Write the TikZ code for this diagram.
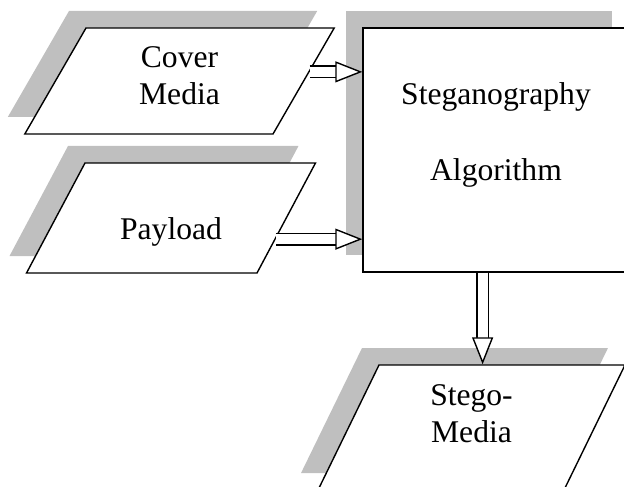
\documentclass[tikz,border=0pt]{standalone}
\usepackage{fontspec}
\setmainfont{Liberation Serif}
\usetikzlibrary{shapes.geometric, arrows.meta, shadows, calc}
\tikzset{
    datablk/.style={trapezium, draw=black, line width=0.7pt, fill=white, align=center, inner sep=0pt, font=\fontsize{15.8}{18.5}\selectfont, drop shadow={shadow xshift=-8.5pt, shadow yshift=8.5pt, opacity=1, fill=black!25}},
    process/.style={rectangle, draw=black, line width=0.7pt, fill=white, align=center, inner sep=0pt, font=\fontsize{15.8}{18.5}\selectfont, drop shadow={shadow xshift=-8.5pt, shadow yshift=8.5pt, opacity=1, fill=black!25}},
    flowarrow/.style={draw=black, line width=0.7pt, double=white, double distance=5pt, -{Triangle[length=13.5pt, width=10.5pt, fill=white]}}
}

\begin{document}
\begin{tikzpicture}[x=0.5pt, y=0.5pt]
  \useasboundingbox (0,0) rectangle (624,-486);
  \clip (0,0) rectangle (624,-486);
  \node[process, text width=133pt, text height=38.5pt, text depth=83.5pt] (algo) at (496,-150) {Steganography\\[19pt]Algorithm};
  \node[datablk, trapezium left angle=60, trapezium right angle=120, text width=93.5pt, text height=20pt, text depth=33pt] (cover) at (179.5,-81) {Cover\\Media};
  \node[datablk, trapezium left angle=62, trapezium right angle=118, text width=86pt, text height=38pt, text depth=17pt] (payload) at (171,-218) {Payload};
  \node[datablk, trapezium left angle=64, trapezium right angle=116, text width=92.5pt, text height=20pt, text depth=42.5pt] (stego) at (471.5,-427.5) {Stego-\\Media};
  \coordinate (c1) at ($(cover.top right corner)!0.415!(cover.bottom right corner)$);
  \coordinate (p1) at ($(payload.top right corner)!0.69!(payload.bottom right corner)$);
  \coordinate (a1) at ($(algo.south west)!0.45!(algo.south east)$);
  \draw[flowarrow] (c1) -- (c1 -| algo.west);
  \draw[flowarrow] (p1) -- (p1 -| algo.west);
  \draw[flowarrow] (a1) -- (a1 |- stego.north);
\end{tikzpicture}
\end{document}
